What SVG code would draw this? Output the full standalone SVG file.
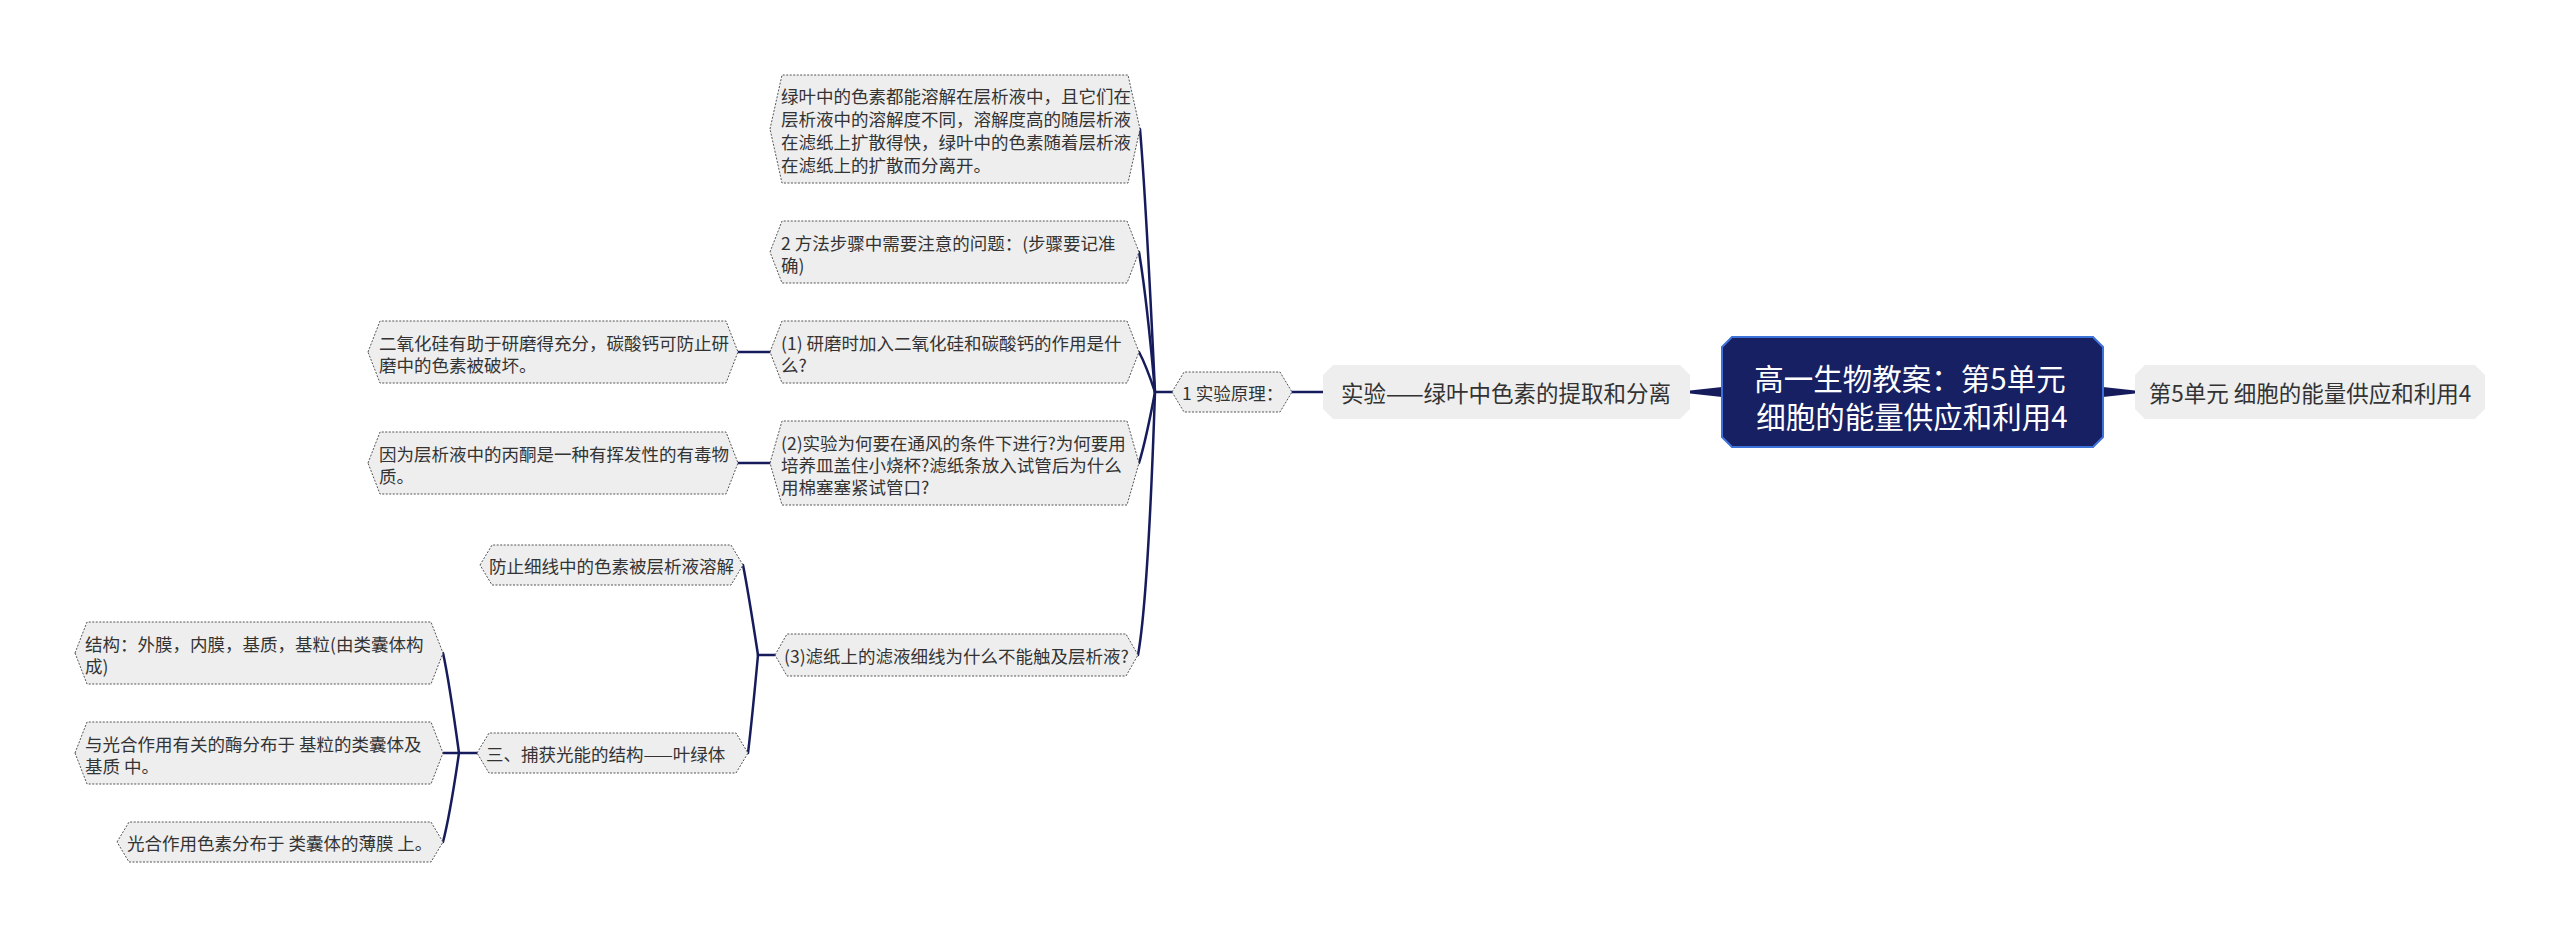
<svg xmlns="http://www.w3.org/2000/svg" width="2560" height="937" viewBox="0 0 2560 937">
<style>
.n polygon{fill:#eeeeee;stroke:#555;stroke-width:1;stroke-dasharray:2 1.5}
.n text{font-family:"Noto Sans CJK SC","Liberation Sans",sans-serif;font-size:17.5px;fill:#333;dominant-baseline:central}
.big polygon{fill:#eeeeee;stroke:none}
.big text{font-family:"Noto Sans CJK SC","Liberation Sans",sans-serif;font-size:22.5px;fill:#333;dominant-baseline:central;text-anchor:middle}
.root polygon{fill:#172062;stroke:#3d72d8;stroke-width:2}
.root text{font-family:"Noto Sans CJK SC","Liberation Sans",sans-serif;font-size:29.5px;fill:#fff;dominant-baseline:central;text-anchor:middle}
.c path{fill:none;stroke:#161b5c;stroke-width:2.5;stroke-linecap:round}
.c polygon{fill:#161b5c}
</style>
<g class="c" id="connectors">
<polygon points="1722,387 1722,397 1690,393.5 1690,390.5"/>
<polygon points="2103,387 2103,397 2135,393.5 2135,390.5"/>
<path d="M1292 392 L1323 392" stroke-width="3"/>
<path d="M1155 392 L1172 392"/>
<path d="M1155 392 Q1146 200 1140 129"/>
<path d="M1155 392 Q1147 300 1139 252"/>
<path d="M1155 392 Q1146 365 1139 352"/>
<path d="M1155 392 Q1146 440 1139 463"/>
<path d="M1155 392 Q1148 600 1138 655"/>
<path d="M770 352 L738 352"/>
<path d="M770 463 L738 463"/>
<path d="M758 655 L775 655"/>
<path d="M758 655 Q748 590 743 565"/>
<path d="M758 655 Q752 720 748 753"/>
<path d="M459 753 L477 753"/>
<path d="M459 753 Q449 680 443 653"/>
<path d="M459 753 L443 753"/>
<path d="M459 753 Q450 815 443 842"/>
</g>
<g class="root" id="root">
<polygon points="1722,347 1732,337 2093,337 2103,347 2103,437 2093,447 1732,447 1722,437"/>
<text x="1910" y="377">高一生物教案：第5单元</text>
<text x="1912" y="415">细胞的能量供应和利用4</text>
</g>
<g class="big" id="right">
<polygon points="2135,375 2145,365 2475,365 2485,375 2485,409 2475,419 2145,419 2135,409"/>
<text x="2310" y="392">第5单元 细胞的能量供应和利用4</text>
</g>
<g class="big" id="main">
<polygon points="1323,375 1333,365 1680,365 1690,375 1690,409 1680,419 1333,419 1323,409"/>
<text x="1506" y="392">实验——绿叶中色素的提取和分离</text>
</g>
<g class="n" id="principle">
<polygon points="1172,392 1184,372 1280,372 1292,392 1280,412 1184,412"/>
<text x="1182" y="392">1 实验原理：</text>
</g>
<g class="n" id="n1">
<polygon points="770,129 782,75 1128,75 1140,129 1128,183 782,183"/>
<text x="781"><tspan x="781" y="95">绿叶中的色素都能溶解在层析液中，且它们在</tspan><tspan x="781" y="118">层析液中的溶解度不同，溶解度高的随层析液</tspan><tspan x="781" y="141">在滤纸上扩散得快，绿叶中的色素随着层析液</tspan><tspan x="781" y="164">在滤纸上的扩散而分离开。</tspan></text>
</g>
<g class="n" id="n2">
<polygon points="770,252 782,221 1127,221 1139,252 1127,283 782,283"/>
<text x="781"><tspan x="781" y="242">2 方法步骤中需要注意的问题：(步骤要记准</tspan><tspan x="781" y="264">确)</tspan></text>
</g>
<g class="n" id="n3">
<polygon points="770,352 782,321 1127,321 1139,352 1127,383 782,383"/>
<text x="781"><tspan x="781" y="342">(1) 研磨时加入二氧化硅和碳酸钙的作用是什</tspan><tspan x="781" y="364">么?</tspan></text>
</g>
<g class="n" id="n4">
<polygon points="770,463 782,421 1127,421 1139,463 1127,505 782,505"/>
<text x="781"><tspan x="781" y="442">(2)实验为何要在通风的条件下进行?为何要用</tspan><tspan x="781" y="464">培养皿盖住小烧杯?滤纸条放入试管后为什么</tspan><tspan x="781" y="486">用棉塞塞紧试管口?</tspan></text>
</g>
<g class="n" id="n5">
<polygon points="775,655 787,634 1126,634 1138,655 1126,676 787,676"/>
<text x="784" y="655">(3)滤纸上的滤液细线为什么不能触及层析液?</text>
</g>
<g class="n" id="a1">
<polygon points="368,352 380,321 726,321 738,352 726,383 380,383"/>
<text x="379"><tspan x="379" y="342">二氧化硅有助于研磨得充分，碳酸钙可防止研</tspan><tspan x="379" y="364">磨中的色素被破坏。</tspan></text>
</g>
<g class="n" id="a2">
<polygon points="368,463 380,432 726,432 738,463 726,494 380,494"/>
<text x="379"><tspan x="379" y="453">因为层析液中的丙酮是一种有挥发性的有毒物</tspan><tspan x="379" y="475">质。</tspan></text>
</g>
<g class="n" id="b1">
<polygon points="480,565 492,545 731,545 743,565 731,585 492,585"/>
<text x="489" y="565">防止细线中的色素被层析液溶解</text>
</g>
<g class="n" id="b2">
<polygon points="477,753 489,733 736,733 748,753 736,773 489,773"/>
<text x="486" y="753">三、捕获光能的结构——叶绿体</text>
</g>
<g class="n" id="c1">
<polygon points="75,653 87,622 431,622 443,653 431,684 87,684"/>
<text x="85"><tspan x="85" y="643">结构：外膜，内膜，基质，基粒(由类囊体构</tspan><tspan x="85" y="665">成)</tspan></text>
</g>
<g class="n" id="c2">
<polygon points="75,753 87,722 431,722 443,753 431,784 87,784"/>
<text x="85"><tspan x="85" y="743">与光合作用有关的酶分布于 基粒的类囊体及</tspan><tspan x="85" y="765">基质 中。</tspan></text>
</g>
<g class="n" id="c3">
<polygon points="117,842 129,822 431,822 443,842 431,862 129,862"/>
<text x="127" y="842">光合作用色素分布于 类囊体的薄膜 上。</text>
</g>
</svg>
